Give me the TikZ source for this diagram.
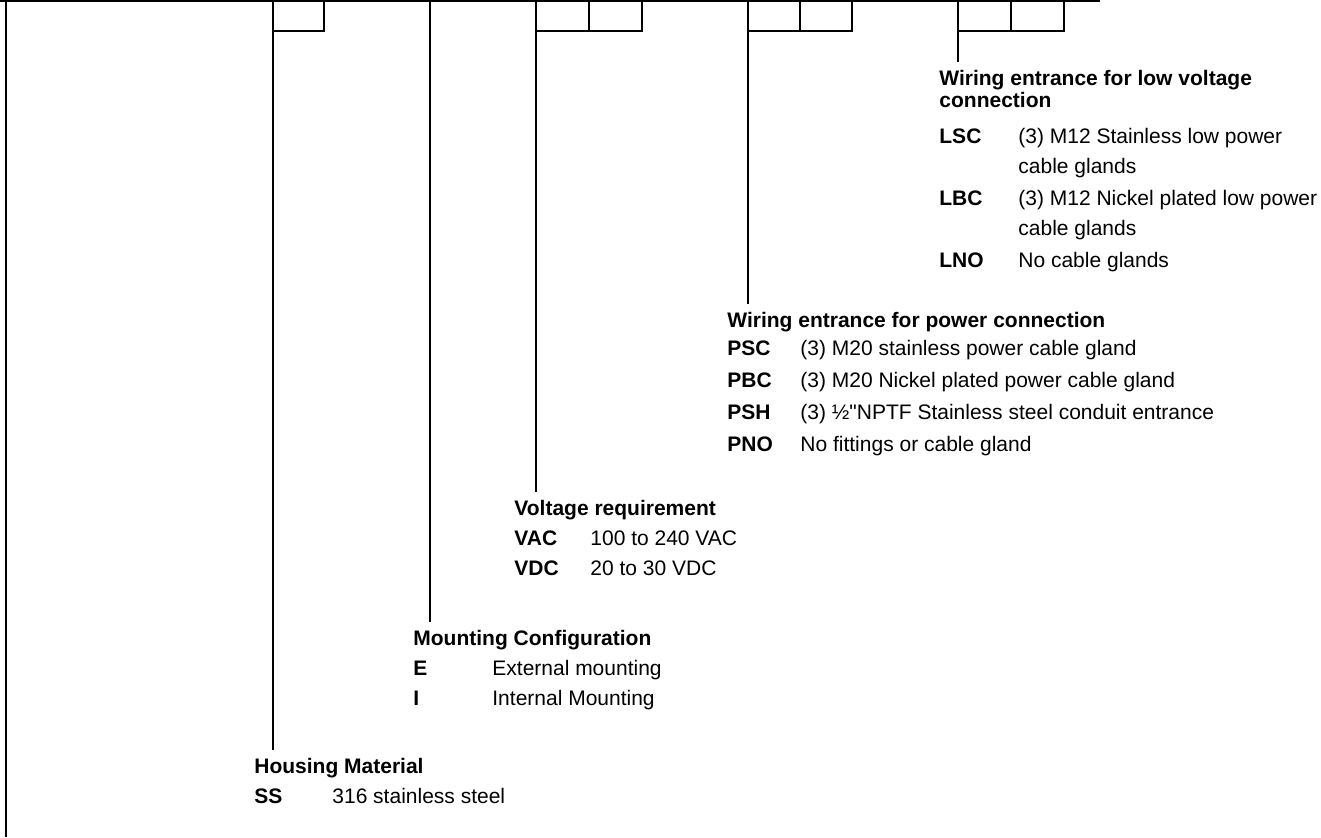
\documentclass[tikz,border=0pt]{standalone}
\usepackage{fontspec}
\setmainfont{Liberation Sans}
\usetikzlibrary{positioning,calc}

\begin{document}
\begin{tikzpicture}[x=0.5pt,y=-0.5pt,
  wire/.style={line width=1pt},
  slot/.style={draw,line width=1pt,inner sep=0pt,outer sep=0pt,minimum height=15pt,minimum width=26.5pt},
  legend/.style={anchor=base west,inner sep=0pt,font=\fontsize{10.5pt}{15pt}\selectfont}
]
  \useasboundingbox (0,0) rectangle (1321,837);
  % order code frame
  \coordinate (topl) at (0,1);
  \coordinate (topr) at (1100,1);
  \coordinate (edgetop) at (6,1);
  \coordinate (edgebot) at (6,837);
  \draw[wire] (topl) -- (topr);
  \draw[wire] (edgetop) -- (edgebot);
  \node[slot,anchor=north west,minimum width=25.5pt] (hb) at (273,1) {};
  \coordinate (mtap) at (430,1);
  \node[slot,anchor=north west] (va) at (536,1) {};
  \node[slot,right=0pt of va] (vb) {};
  \node[slot,anchor=north west,minimum width=26pt] (pa) at (748,1) {};
  \node[slot,right=0pt of pa,minimum width=26pt] (pb) {};
  \node[slot,anchor=north west] (la) at (958,1) {};
  \node[slot,right=0pt of la] (lb) {};

  % option lists
  \node[legend] (lv) at (939,85) {\begin{tabular}[t]{@{}p{39.5pt}@{}l@{}}
    \multicolumn{2}{@{}l@{}}{\bfseries Wiring entrance for low voltage}\\[-4pt]
    \multicolumn{2}{@{}l@{}}{\bfseries connection}\\[3pt]
    \bfseries LSC & (3) M12 Stainless low power\\
    & cable glands\\[1pt]
    \bfseries LBC & (3) M12 Nickel plated low power\\
    & cable glands\\[1pt]
    \bfseries LNO & No cable glands
  \end{tabular}};
  \node[legend] (pw) at (727,327) {\begin{tabular}[t]{@{}p{36.5pt}@{}l@{}}
    \multicolumn{2}{@{}l@{}}{\bfseries Wiring entrance for power connection}\\[-1pt]
    \bfseries PSC & (3) M20 stainless power cable gland\\[1pt]
    \bfseries PBC & (3) M20 Nickel plated power cable gland\\[1pt]
    \bfseries PSH & (3) ½\textquotedbl NPTF Stainless steel conduit entrance\\[1pt]
    \bfseries PNO & No fittings or cable gland
  \end{tabular}};
  \node[legend] (vr) at (514,515) {\begin{tabular}[t]{@{}p{38pt}@{}l@{}}
    \multicolumn{2}{@{}l@{}}{\bfseries Voltage requirement}\\
    \bfseries VAC & 100 to 240 VAC\\
    \bfseries VDC & 20 to 30 VDC
  \end{tabular}};
  \node[legend] (mc) at (413,645) {\begin{tabular}[t]{@{}p{39.5pt}@{}l@{}}
    \multicolumn{2}{@{}l@{}}{\bfseries Mounting Configuration}\\
    \bfseries E & External mounting\\
    \bfseries I & Internal Mounting
  \end{tabular}};
  \node[legend] (hm) at (254,773) {\begin{tabular}[t]{@{}p{39pt}@{}l@{}}
    \multicolumn{2}{@{}l@{}}{\bfseries Housing Material}\\
    \bfseries SS & 316 stainless steel
  \end{tabular}};

  % leaders
  \draw[wire] (la.south west) -- ($(lv.north -| la.south west)+(0,1pt)$);
  \draw[wire] (pa.south west) -- ($(pw.north -| pa.south west)+(0,1pt)$);
  \draw[wire] (va.south west) -- ($(vr.north -| va.south west)+(0,1pt)$);
  \draw[wire] (mtap) -- ($(mc.north -| mtap)+(0,1pt)$);
  \draw[wire] (hb.south west) -- ($(hm.north -| hb.south west)+(0,1pt)$);
\end{tikzpicture}
\end{document}
